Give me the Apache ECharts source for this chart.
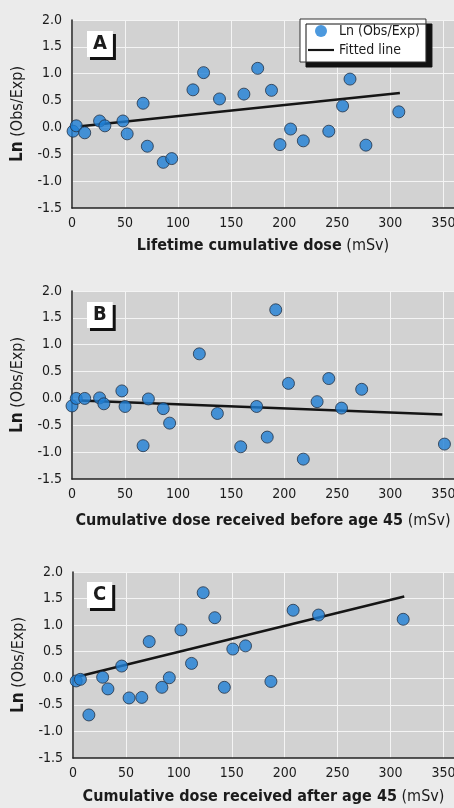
<!DOCTYPE html>
<html>
<head>
<meta charset="utf-8">
<script src="https://cdn.jsdelivr.net/npm/echarts@6/dist/echarts.min.js"></script>
<style>
  html, body { margin: 0; padding: 0; background: #ebebeb; }
  #chart { width: 454px; height: 808px; }
</style>
</head>
<body>
<div id="chart"></div>
<script>
// Panel A: lifetime cumulative dose
const doseA = [1, 4, 12, 26, 31, 48, 52, 67, 71, 86, 94, 114, 124, 139, 162, 175, 188, 196, 206, 218, 242, 255, 262, 277, 308];
const lnA = [-0.07, 0.03, -0.1, 0.12, 0.03, 0.12, -0.12, 0.45, -0.35, -0.65, -0.58, 0.7, 1.02, 0.53, 0.62, 1.1, 0.69, -0.32, -0.03, -0.25, -0.07, 0.4, 0.9, -0.33, 0.29];
const fitXA = [8, 309];
const fitYA = [0.02, 0.64];

// Panel B: dose received before age 45
const doseB = [0, 4, 12, 26, 30, 47, 50, 67, 72, 86, 92, 120, 137, 159, 174, 184, 192, 204, 218, 231, 242, 254, 273, 351];
const lnB = [-0.14, 0.0, 0.0, 0.01, -0.1, 0.14, -0.15, -0.88, -0.01, -0.19, -0.46, 0.83, -0.28, -0.9, -0.15, -0.72, 1.65, 0.28, -1.13, -0.06, 0.37, -0.18, 0.17, -0.85];
const fitXB = [7, 349];
const fitYB = [-0.04, -0.3];

// Panel C: dose received after age 45
const doseC = [3, 7, 15, 28, 33, 46, 53, 65, 72, 84, 91, 102, 112, 123, 134, 143, 151, 163, 187, 208, 232, 312];
const lnC = [-0.05, -0.02, -0.69, 0.02, -0.2, 0.23, -0.37, -0.36, 0.69, -0.17, 0.01, 0.91, 0.28, 1.61, 1.14, -0.17, 0.55, 0.61, -0.06, 1.28, 1.19, 1.11];
const fitXC = [4, 313];
const fitYC = [0.03, 1.54];

const panelLabels = ['A', 'B', 'C'];
const xTitles = ['Lifetime cumulative dose', 'Cumulative dose received before age 45', 'Cumulative dose received after age 45'];
const yTicks = [-1.5, 2.0, 0.5];   // min, max, step
const xTicks = [0, 360, 50];

const FONT = "'Liberation Sans Narrow', 'DejaVu Sans Condensed', sans-serif";
const INK = '#1b1b1b';

const pairs = (xs, ys) => xs.map((x, i) => [x, ys[i]]);

const grids = [
    { left: 72, top: 20, right: 0, height: 188 },
    { left: 72, top: 291, right: 0, height: 188 },
    { left: 73, top: 572, right: 0, height: 186 }
].map(g => Object.assign(g, {
    show: true, backgroundColor: '#d2d2d2', borderWidth: 0,
    containLabel: false, outerBoundsMode: 'none'
}));

const xNameGaps = [30, 34, 31];

const xAxes = xTitles.map((t, i) => ({
    type: 'value',
    gridIndex: i,
    min: xTicks[0],
    max: xTicks[1],
    interval: xTicks[2],
    name: `{b|${t}} (mSv)`,
    nameLocation: 'middle',
    nameGap: xNameGaps[i],
    nameTextStyle: {
        color: INK, fontFamily: FONT, fontSize: 16,
        rich: { b: { fontWeight: 'bold', fontSize: 16, fontFamily: FONT, color: INK } }
    },
    axisLine: { show: true, onZero: false, lineStyle: { color: '#222', width: 1.5 } },
    axisTick: { show: false },
    axisLabel: {
        color: INK, fontFamily: FONT, fontSize: 14, margin: 8,
        formatter: v => (v % 50 === 0 ? String(v) : '')
    },
    splitLine: { show: true, lineStyle: { color: '#f4f4f4', width: 1 } }
}));

const yAxes = xTitles.map((t, i) => ({
    type: 'value',
    gridIndex: i,
    min: yTicks[0],
    max: yTicks[1],
    interval: yTicks[2],
    name: '{b|Ln} (Obs/Exp)',
    nameLocation: 'middle',
    nameGap: 40,
    nameTextStyle: {
        color: INK, fontFamily: FONT, fontSize: 16,
        rich: { b: { fontWeight: 'bold', fontSize: 17, fontFamily: FONT, color: INK } }
    },
    axisLine: { show: true, onZero: false, lineStyle: { color: '#222', width: 1.5 } },
    axisTick: { show: false },
    axisLabel: {
        color: INK, fontFamily: FONT, fontSize: 14, margin: 10,
        formatter: v => v.toFixed(1)
    },
    splitLine: { show: true, lineStyle: { color: '#f4f4f4', width: 1 } }
}));

const labelTops = [31, 302, 582];
const titles = panelLabels.map((p, i) => ({
    text: p,
    left: 87,
    top: labelTops[i],
    padding: [3, 6, 3, 6],
    backgroundColor: '#ffffff',
    shadowColor: '#111',
    shadowBlur: 0,
    shadowOffsetX: 3,
    shadowOffsetY: 3,
    textStyle: { fontFamily: FONT, fontSize: 20, fontWeight: 'bold', color: INK }
}));

const pointStyle = {
    color: '#1f80d6',
    borderColor: '#233246',
    borderWidth: 1
};

const dataSets = [
    [doseA, lnA, fitXA, fitYA],
    [doseB, lnB, fitXB, fitYB],
    [doseC, lnC, fitXC, fitYC]
];

const series = [];
dataSets.forEach(([xs, ys, fx, fy], i) => {
    series.push({
        name: 'Fitted line',
        type: 'line',
        xAxisIndex: i,
        yAxisIndex: i,
        data: pairs(fx, fy),
        symbol: 'none',
        lineStyle: { color: '#151515', width: 2.5 },
        itemStyle: { color: '#151515' },
        z: 2
    });
    series.push({
        name: 'Ln (Obs/Exp)',
        type: 'scatter',
        xAxisIndex: i,
        yAxisIndex: i,
        data: pairs(xs, ys),
        symbolSize: 12,
        itemStyle: pointStyle,
        z: 3
    });
});

const chart = echarts.init(document.getElementById('chart'), null, { renderer: 'canvas' });
chart.setOption({
    backgroundColor: '#ebebeb',
    animation: false,
    title: titles,
    legend: {
        data: [
            { name: 'Ln (Obs/Exp)', icon: 'circle', itemStyle: { borderWidth: 0 } },
            { name: 'Fitted line', icon: 'path://M0,0L12,0L12,1L0,1Z' }
        ],
        orient: 'vertical',
        left: 300,
        top: 19,
        padding: [5, 6, 5, 8],
        itemGap: 5,
        itemWidth: 26,
        itemHeight: 12,
        backgroundColor: '#ffffff',
        borderColor: '#333',
        borderWidth: 1,
        shadowColor: '#111',
        shadowBlur: 0,
        shadowOffsetX: 6,
        shadowOffsetY: 5,
        textStyle: { fontFamily: FONT, fontSize: 14, color: INK }
    },
    grid: grids,
    xAxis: xAxes,
    yAxis: yAxes,
    series: series
});
window.addEventListener('resize', () => chart?.resize());
</script>
</body>
</html>
